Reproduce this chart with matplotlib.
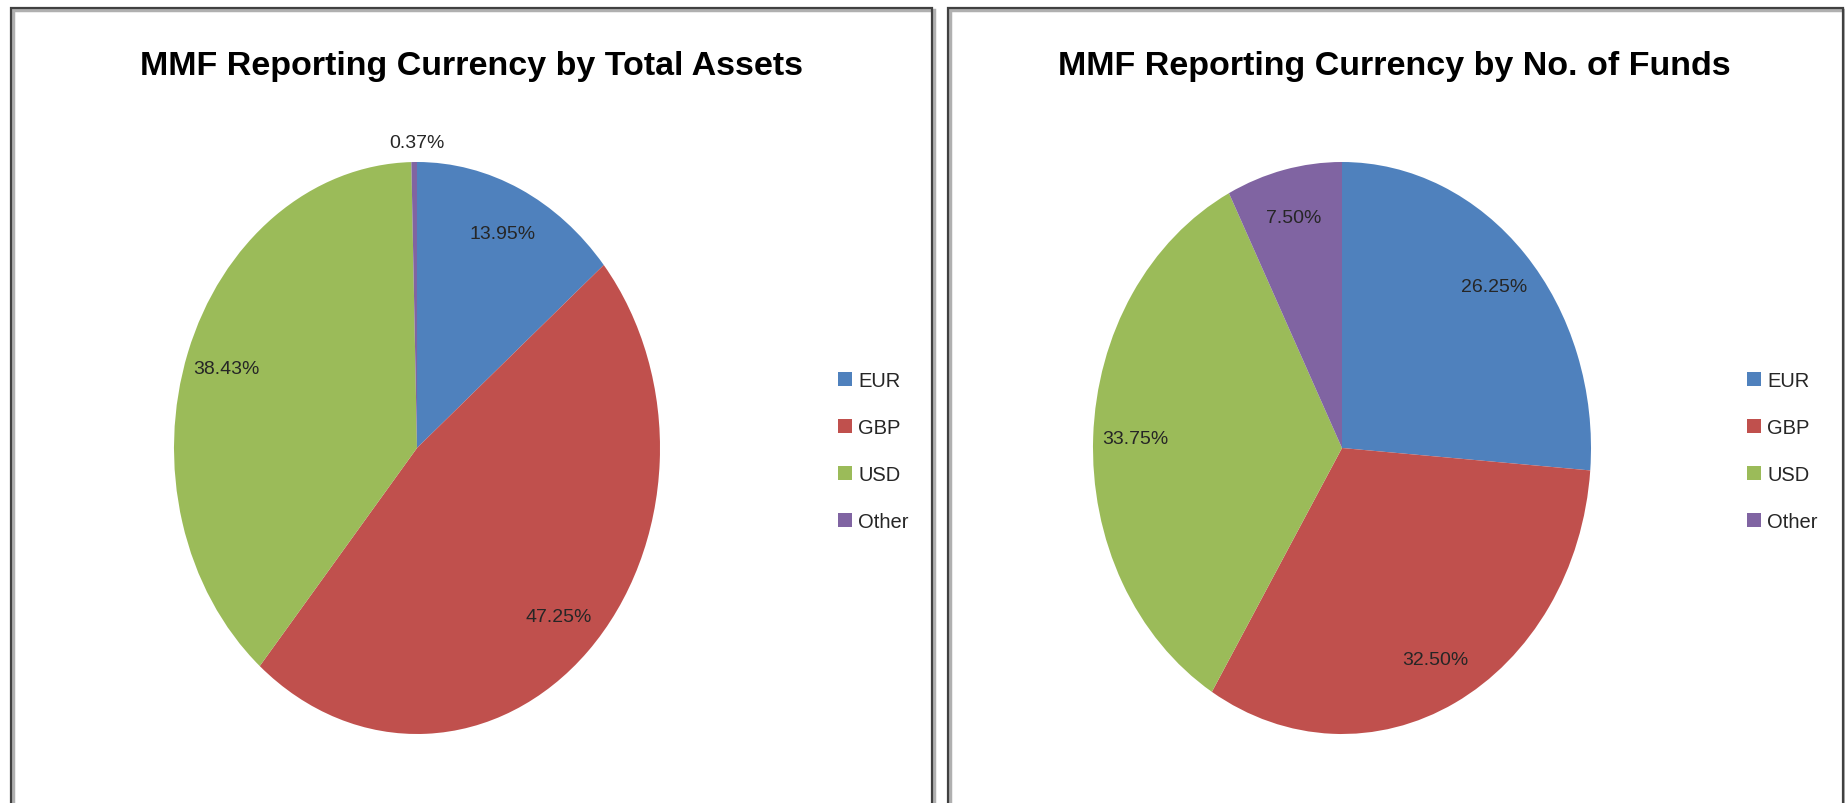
import matplotlib
matplotlib.use("Agg")
import matplotlib.pyplot as plt
from matplotlib.patches import Rectangle, Patch

plt.rcParams['font.family'] = ['Liberation Sans', 'DejaVu Sans']

W, H = 1845, 804

currencies = ["EUR", "GBP", "USD", "Other"]
colors = ["#4F81BD", "#C0504D", "#9BBB59", "#8064A2"]

assets_pct = [13.95, 47.25, 38.43, 0.37]
funds_pct = [26.25, 32.50, 33.75, 7.50]

titles = ["MMF Reporting Currency by Total Assets",
          "MMF Reporting Currency by No. of Funds"]

# panel geometry in pixels (top-left origin)
panels = [
    dict(box=(11, 9, 932, 830), cx=417, cy=449, rx=243, ry=286,
         title_x=471, leg_x=820),
    dict(box=(948, 9, 1843, 830), cx=1342, cy=449, rx=249, ry=286,
         title_x=1394, leg_x=1729),
]

fig = plt.figure(figsize=(W / 100, H / 100), dpi=100)

def px(x, y):
    return x / W, 1 - y / H

for p, vals, title in zip(panels, [assets_pct, funds_pct], titles):
    x0, y0, x1, y1 = p["box"]
    # panel frame with a soft shadow
    fig.patches.append(Rectangle(px(x0 + 2, y1 + 2), (x1 - x0) / W, (y1 - y0) / H,
                                 transform=fig.transFigure, fill=False,
                                 edgecolor="#b0b0b0", lw=2.5, zorder=0))
    fig.patches.append(Rectangle(px(x0, y1), (x1 - x0) / W, (y1 - y0) / H,
                                 transform=fig.transFigure, fill=False,
                                 edgecolor="#404040", lw=1.6, zorder=1))

    fig.text(*px(p["title_x"], 66), title, ha="center", va="center",
             fontsize=24.5, fontweight="bold", color="black")

    k = 1.25
    cx, cy, rx, ry = p["cx"], p["cy"], p["rx"], p["ry"]
    ax = fig.add_axes([(cx - rx * k) / W, 1 - (cy + ry * k) / H,
                       2 * rx * k / W, 2 * ry * k / H])
    wedges, texts, autotexts = ax.pie(vals, colors=colors, startangle=90,
                                      counterclock=False, autopct="%.2f%%",
                                      pctdistance=0.83, radius=1,
                                      wedgeprops=dict(linewidth=0),
                                      textprops=dict(fontsize=14, color="#262626"))
    ax.set_aspect("auto")
    ax.set_xlim(-k, k)
    ax.set_ylim(-k, k)
    ax.axis("off")
    # tiny slices get their label outside the pie
    for v, t in zip(vals, autotexts):
        if v < 1:
            t.set_position((0.0, 1.04))
            t.set_va("bottom")

    handles = [Patch(facecolor=c, edgecolor="none") for c in colors]
    fig.legend(handles, currencies, loc="center left",
               bbox_to_anchor=px(p["leg_x"], 452), frameon=False,
               fontsize=14.5, handlelength=0.7, handleheight=0.7,
               handletextpad=0.3, labelspacing=1.4, labelcolor="#262626")

fig.savefig("out.png", dpi=100, facecolor="white")
